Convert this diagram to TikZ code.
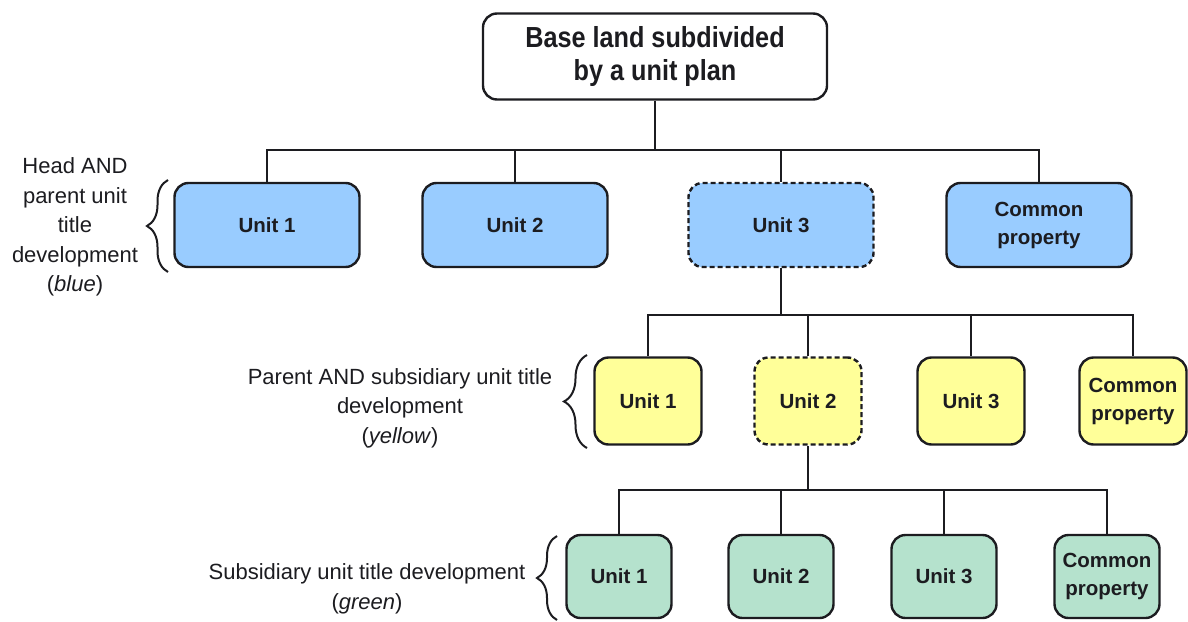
\documentclass[tikz,border=0pt]{standalone}
\usepackage{fontspec}
\setmainfont{Liberation Sans}
\newfontfamily\headfont{Liberation Sans}[FakeStretch=0.87]
\usetikzlibrary{decorations.pathreplacing}
\definecolor{unitblue}{RGB}{153,204,255}
\definecolor{unityellow}{RGB}{255,255,153}
\definecolor{unitgreen}{RGB}{181,226,205}
\definecolor{inkdark}{RGB}{28,28,32}

\begin{document}
\begin{tikzpicture}[x=1pt,y=-1pt,
  box/.style={draw=inkdark, line width=2.4pt, rounded corners=14pt, inner sep=0pt,
    align=center, text=inkdark, font=\fontsize{20.5}{28}\selectfont\bfseries},
  bluebox/.style={box, fill=unitblue, minimum width=185pt, minimum height=84pt},
  yellowbox/.style={box, fill=unityellow, minimum width=107pt, minimum height=87pt},
  greenbox/.style={box, fill=unitgreen, minimum width=105pt, minimum height=83pt},
  proposed/.style={dash pattern=on 5pt off 3pt},
  link/.style={draw=inkdark, line width=2pt},
  grouplabel/.style={align=center, text=inkdark, font=\fontsize{22}{29.5}\selectfont},
  groupbrace/.style={draw=inkdark, line width=2pt, decorate,
    decoration={brace, amplitude=#1}}
]
\useasboundingbox (0,0) rectangle (1188,621);

% root
\node[box, fill=white, minimum width=344pt, minimum height=86pt,
  font=\headfont\fontsize{29}{33}\selectfont\bfseries] (root) at (655,56.5)
  {Base land subdivided\\by a unit plan};

% head / parent development (blue)
\node[bluebox] (b1) at (267,225) {Unit 1};
\node[bluebox] (b2) at (515,225) {Unit 2};
\node[bluebox, proposed] (b3) at (781,225) {Unit 3};
\node[bluebox] (b4) at (1039,225) {Common\\property};

% parent / subsidiary development (yellow)
\node[yellowbox] (y1) at (648,401) {Unit 1};
\node[yellowbox, proposed] (y2) at (808,401) {Unit 2};
\node[yellowbox] (y3) at (971,401) {Unit 3};
\node[yellowbox] (y4) at (1133,401) {Common\\property};

% subsidiary development (green)
\node[greenbox] (g1) at (619,576.5) {Unit 1};
\node[greenbox] (g2) at (781,576.5) {Unit 2};
\node[greenbox] (g3) at (944,576.5) {Unit 3};
\node[greenbox] (g4) at (1107,576.5) {Common\\property};

% bus levels
\coordinate (busA) at (655,150);
\coordinate (busB) at (781,315);
\coordinate (busC) at (808,490);

% connectors
\draw[link] (root.south) -- (busA);
\draw[link] (b1.north) -- (b1.north |- busA) -- (b4.north |- busA) -- (b4.north);
\draw[link] (b2.north) -- (b2.north |- busA);
\draw[link] (b3.north) -- (b3.north |- busA);

\draw[link] (b3.south) -- (busB);
\draw[link] (y1.north) -- (y1.north |- busB) -- (y4.north |- busB) -- (y4.north);
\draw[link] (y2.north) -- (y2.north |- busB);
\draw[link] (y3.north) -- (y3.north |- busB);

\draw[link] (y2.south) -- (busC);
\draw[link] (g1.north) -- (g1.north |- busC) -- (g4.north |- busC) -- (g4.north);
\draw[link] (g2.north) -- (g2.north |- busC);
\draw[link] (g3.north) -- (g3.north |- busC);

% group braces
\coordinate (braceAlo) at (168,272);
\coordinate (braceAhi) at (168,180);
\coordinate (braceBlo) at (587,448);
\coordinate (braceBhi) at (587,355);
\coordinate (braceClo) at (557,620);
\coordinate (braceChi) at (557,536);
\draw[groupbrace=21pt] (braceAlo) -- (braceAhi);
\draw[groupbrace=23pt] (braceBlo) -- (braceBhi);
\draw[groupbrace=20pt] (braceClo) -- (braceChi);

% group labels
\node[grouplabel] (lblue) at (75,227)
  {Head AND\\parent unit\\title\\development\\(\textit{blue})};
\node[grouplabel] (lyellow) at (400,408)
  {Parent AND subsidiary unit title\\development\\(\textit{yellow})};
\node[grouplabel] (lgreen) at (367,589)
  {Subsidiary unit title development\\(\textit{green})};
\end{tikzpicture}
\end{document}
